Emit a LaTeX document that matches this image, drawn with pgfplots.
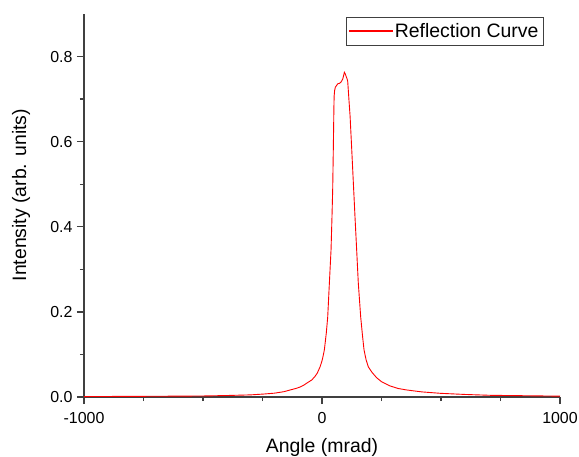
\documentclass[border=0pt]{standalone}
\usepackage{fontspec}
\setmainfont{Liberation Sans}
\usepackage{pgfplots}
\pgfplotsset{compat=1.18}
\definecolor{axgray}{RGB}{64,64,64}
\begin{document}
\begin{tikzpicture}
\begin{axis}[
  scale only axis,
  width=476bp, height=383bp,
  xmin=-1000, xmax=1000, ymin=0, ymax=0.9,
  axis lines=left,
  axis line style={-, draw=axgray, line width=1.3bp},
  tick style={draw=axgray, line width=1.3bp},
  tick align=outside,
  major tick length=7bp,
  minor tick length=4bp,
  xtick={-1000,0,1000},
  minor xtick={-750,-500,-250,250,500,750},
  ytick={0,0.2,0.4,0.6,0.8},
  minor ytick={0.1,0.3,0.5,0.7},
  yticklabel style={/pgf/number format/fixed, /pgf/number format/fixed zerofill, /pgf/number format/precision=1, xshift=-1bp},
  xticklabel style={/pgf/number format/fixed, /pgf/number format/set thousands separator={}, yshift=-5bp},
  /pgf/number format/assume math mode=true,
  tick label style={font=\fontsize{16}{19}\selectfont, text=black},
  xlabel={Angle (mrad)},
  ylabel={Intensity (arb. units)},
  label style={font=\fontsize{19.5}{23}\selectfont},
  xlabel style={at={(axis description cs:0.5,-0.1454)}, anchor=base},
  ylabel style={at={(axis description cs:-0.1218,0.527)}, anchor=base},
  legend style={at={(rel axis cs:0.966,0.992)}, anchor=north east,
    draw=axgray, line width=0.8bp, font=\fontsize{19.5}{23}\selectfont,
    inner xsep=3bp, inner ysep=4bp, row sep=0bp},
  legend image code/.code={\fill[red] (0bp,-0.5bp) rectangle (43bp,0.5bp);},
  legend cell align=left,
]
\addplot[red, line width=0.9bp] coordinates {
(-1000,0.001) (-800,0.0015) (-600,0.002) (-487,0.0025) (-400,0.0035)
(-300,0.005) (-244,0.007) (-200,0.009) (-160,0.0125) (-134,0.0165)
(-110,0.020) (-92,0.0235) (-76,0.028) (-60,0.034) (-43,0.040)
(-30,0.048) (-20,0.056) (-8,0.071) (0,0.085) (5,0.097) (10,0.111) (18,0.150)
(24,0.188) (31,0.268) (38,0.346) (42,0.424) (45,0.49) (47.5,0.581) (49,0.640)
(50,0.680) (51,0.707) (53,0.720) (56,0.728) (60,0.731) (66,0.736)
(73,0.737) (80,0.740) (87,0.747) (91,0.756) (94,0.763) (98,0.759) (101,0.754)
(105,0.748) (108,0.742) (113,0.70) (118,0.660) (125,0.581) (132,0.50)
(138.6,0.424) (145.6,0.346) (152.5,0.268) (162.6,0.188) (170,0.145)
(176.5,0.111) (185,0.088) (194.5,0.071) (210,0.058) (230,0.045)
(250,0.036) (286,0.026) (320,0.020) (356,0.0165) (420,0.012)
(496,0.0087) (600,0.006) (706,0.004) (850,0.003) (1000,0.002)
};
\addlegendentry{Reflection Curve}
\end{axis}
\pgfresetboundingbox
\path[use as bounding box] (-84bp,-60bp) rectangle (495bp,397bp);
\end{tikzpicture}
\end{document}
